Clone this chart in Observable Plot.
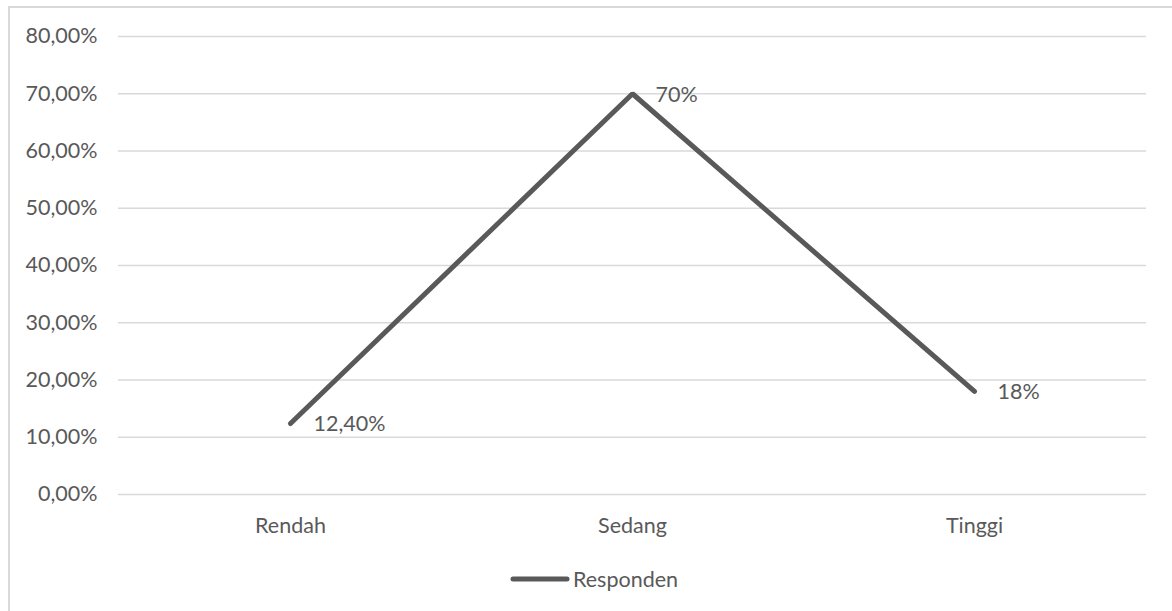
<!DOCTYPE html>
<html>
<head>
<meta charset="utf-8">
<script src="https://cdn.jsdelivr.net/npm/d3@7"></script>
<script src="https://cdn.jsdelivr.net/npm/@observablehq/plot@0.6"></script>
<style>
  html, body { margin: 0; padding: 0; background: #fff; }
  body { width: 1172px; height: 611px; position: relative; overflow: hidden; font-family: Lato, "Open Sans", sans-serif; }
  #frame { position: absolute; left: 8px; top: 6px; width: 1200px; height: 700px;
           border-left: 2px solid #d9d9d9; border-top: 2px solid #d9d9d9; box-sizing: border-box; }
  #chart { position: absolute; left: 0; top: 0; }
  #legend { position: absolute; left: 510px; top: 566px; height: 26px; display: flex; align-items: center;
            font-size: 21.5px; color: #595959; }
  #legend svg { margin-right: 3px; }
</style>
</head>
<body>
<div id="frame"></div>
<div id="chart"></div>
<div id="legend"></div>
<script>
// Share of respondents per category
const categories = ["Rendah", "Sedang", "Tinggi"];
const values = [0.124, 0.70, 0.18];
const valueLabels = ["12,40%", "70%", "18%"];
const yTicks = [0, 0.1, 0.2, 0.3, 0.4, 0.5, 0.6, 0.7, 0.8];
const seriesName = "Responden";

const data = categories.map((c, i) => ({category: c, value: values[i], label: valueLabels[i]}));

const ink = "#595959";
const fmtPct = d => (d * 100).toFixed(2).replace(".", ",") + "%";

const chart = Plot.plot({
  width: 1172,
  height: 555,
  marginLeft: 118,
  marginRight: 26,
  marginTop: 36,
  marginBottom: 61,
  style: {fontFamily: "Lato, 'Open Sans', sans-serif", fontSize: "21.5px", color: ink, background: "transparent"},
  x: {type: "point", domain: categories, padding: 0.5, label: null},
  y: {domain: [0, 0.8], ticks: yTicks, label: null},
  marks: [
    Plot.gridY(yTicks, {stroke: "#d9d9d9", strokeOpacity: 1, strokeWidth: 1.5}),
    Plot.axisY(yTicks, {tickSize: 0, tickPadding: 21, tickFormat: fmtPct, fill: ink, label: null}),
    Plot.axisX({tickSize: 0, tickPadding: 23, fill: ink, label: null}),
    Plot.line(data, {x: "category", y: "value", stroke: ink, strokeWidth: 5,
                     strokeLinecap: "round", strokeLinejoin: "miter"}),
    Plot.text(data, {x: "category", y: "value", text: "label", textAnchor: "start", dx: 23, dy: 1, fill: ink})
  ]
});
document.getElementById("chart").append(chart);

// Legend below the plot
const legend = document.getElementById("legend");
legend.innerHTML =
  `<svg width="60" height="10"><line x1="3" y1="5" x2="57" y2="5" stroke="${ink}" stroke-width="5" stroke-linecap="round"/></svg>` +
  `<span>${seriesName}</span>`;
</script>
</body>
</html>
